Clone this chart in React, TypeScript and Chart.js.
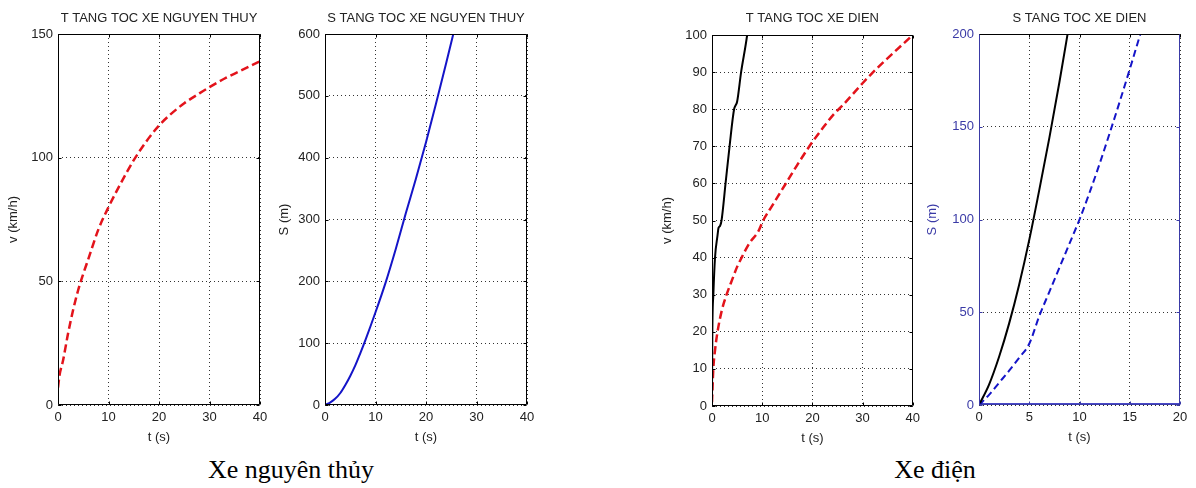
import React, { useEffect, useRef } from "react";
import { Chart, registerables } from "chart.js";

Chart.register(...registerables);

const FONT = "'Liberation Sans', Arial, Helvetica, sans-serif";
const TEXT = "#222222";
const GRID = "rgba(0,0,0,0.8)";
const AXIS_BLUE = "#3a3aa6";

// ---- Xe nguyên thủy: speed (km/h) vs time (s)
const origTime = [0, 0.3, 1, 2, 3, 4, 5, 6, 8, 10, 12, 15, 18, 20, 22, 25, 28, 30, 33, 36, 40];
const origSpeed = [7, 12, 18, 29, 38.5, 46.5, 53, 59, 71, 80, 88, 99, 108, 113, 117, 122, 126, 128.5, 132, 135, 139];

// ---- Xe nguyên thủy: distance (m) vs time (s)
const origDistTime = [0, 1, 2, 3, 4, 5, 6, 7, 8, 10, 12, 14, 16, 18, 20, 22, 24, 26];
const origDist = [0, 4, 10, 19, 32, 47, 64, 84, 105, 150, 198, 252, 310, 366, 425, 488, 553, 620];

// ---- Xe điện: speed (km/h) vs time (s)
const elecDashTime = [0, 0.26, 0.6, 1.1, 2, 2.9, 4, 5, 5.9, 7.5, 9.2, 10.2, 12, 14.5, 17, 19.4, 22, 24.5, 26, 28, 30, 32.1, 34, 36, 38, 40];
const elecDashSpeed = [1, 10, 15, 20, 26, 30, 34, 37.5, 40, 44, 47, 50, 54, 59.5, 65, 70, 74.8, 79, 81, 84, 87, 90, 92.5, 95, 97.5, 100];
const elecSolidTime = [0, 0.03, 0.07, 0.27, 0.6, 1.1, 1.3, 1.6, 1.9, 2.7, 3.5, 4.4, 4.7, 5.0, 5.8, 7.0, 7.5];
const elecSolidSpeed = [0, 10, 20, 30, 40, 46, 48, 48.5, 50, 60, 70, 80, 81, 82, 90, 100, 106];

// ---- Xe điện: distance (m) vs time (s)
const elecDistSolidTime = [0, 1, 2, 3, 4, 5, 6, 7, 8, 9];
const elecDistSolid = [0, 11, 26, 44, 65, 89, 116, 144, 174, 206];
const elecDistDashTime = [0, 1, 2, 3, 4, 5, 6, 7, 8, 9, 10, 11, 12, 13, 14, 15, 16, 17];
const elecDistDash = [0, 5.5, 12, 18.5, 25.5, 33, 48, 61, 74, 87, 100, 114.5, 130, 146.5, 163.5, 181, 199, 217];
const baseTime = [0, 20];
const baseDist = [0, 0];

// ---- text
const titles = ["T TANG TOC XE NGUYEN THUY", "S TANG TOC XE NGUYEN THUY", "T TANG TOC XE DIEN", "S TANG TOC XE DIEN"];
const xLabel = "t (s)";
const speedLabel = "v (km/h)";
const distLabel = "S (m)";
const captions = ["Xe nguyên thủy", "Xe điện"];

function pts(xs: number[], ys: number[]) {
  return xs.map((x, i) => ({ x, y: ys[i] }));
}

const boxPlugin = {
  id: "matlabBox",
  afterDatasetsDraw(chart: any, _args: any, opts: any) {
    const { ctx, chartArea: a, scales } = chart;
    const L = Math.round(a.left) + 0.5;
    const R = Math.round(a.right) - 0.5;
    const T = Math.round(a.top) + 0.5;
    const B = Math.round(a.bottom) - 0.5;
    ctx.save();
    ctx.lineWidth = 1;
    ctx.setLineDash([]);
    const c = opts.colors || {};
    const tl = 3;
    for (const t of scales.x.ticks) {
      const px = Math.round(scales.x.getPixelForValue(t.value)) + 0.5;
      ctx.strokeStyle = c.bottom || "#000";
      ctx.beginPath(); ctx.moveTo(px, B); ctx.lineTo(px, B - tl); ctx.stroke();
      ctx.strokeStyle = c.top || "#000";
      ctx.beginPath(); ctx.moveTo(px, T); ctx.lineTo(px, T + tl); ctx.stroke();
    }
    for (const t of scales.y.ticks) {
      const py = Math.round(scales.y.getPixelForValue(t.value)) + 0.5;
      ctx.strokeStyle = c.left || "#000";
      ctx.beginPath(); ctx.moveTo(L, py); ctx.lineTo(L + tl, py); ctx.stroke();
      ctx.strokeStyle = c.right || "#000";
      ctx.beginPath(); ctx.moveTo(R, py); ctx.lineTo(R - tl, py); ctx.stroke();
    }
    const side = (col: string, x1: number, y1: number, x2: number, y2: number) => {
      ctx.strokeStyle = col;
      ctx.beginPath(); ctx.moveTo(x1, y1); ctx.lineTo(x2, y2); ctx.stroke();
    };
    side(c.top || "#000", L, T, R, T);
    side(c.bottom || "#000", L, B, R, B);
    side(c.left || "#000", L, T, L, B);
    side(c.right || "#000", R, T, R, B);
    ctx.fillStyle = TEXT;
    ctx.font = `13px ${FONT}`;
    ctx.textAlign = "center";
    ctx.textBaseline = "middle";
    ctx.fillText(opts.title, (a.left + a.right) / 2, 18);
    ctx.restore();
  },
};

type Spec = {
  left: number;
  width: number;
  pad: { left: number; right: number; top: number; bottom: number };
  yWidth: number;
  yTitlePad: number;
  title: string;
  xMax: number;
  xStep: number;
  yMax: number;
  yStep: number;
  yLabel: string;
  yColor: string;
  colors?: any;
  datasets: any[];
};

function buildConfig(s: Spec): any {
  const font = { family: FONT, size: 13 };
  return {
    type: "line",
    data: { datasets: s.datasets },
    options: {
      responsive: false,
      animation: false,
      events: [],
      layout: { padding: s.pad },
      elements: { point: { radius: 0 } },
      plugins: {
        legend: { display: false },
        tooltip: { enabled: false },
        title: { display: false },
        matlabBox: { title: s.title, colors: s.colors },
      },
      scales: {
        x: {
          type: "linear",
          min: 0,
          max: s.xMax,
          ticks: { stepSize: s.xStep, color: TEXT, font, padding: 5, maxRotation: 0 },
          grid: { color: GRID, drawTicks: false, lineWidth: 1 },
          border: { display: false, dash: [1, 3] },
          title: { display: true, text: xLabel, color: TEXT, font, padding: { top: 0, bottom: 0 } },
          afterFit: (sc: any) => { sc.height = 40; },
        },
        y: {
          type: "linear",
          min: 0,
          max: s.yMax,
          ticks: { stepSize: s.yStep, color: s.yColor, font, padding: 5 },
          grid: { color: GRID, drawTicks: false, lineWidth: 1 },
          border: { display: false, dash: [1, 3] },
          title: { display: true, text: s.yLabel, color: s.yColor, font, padding: { top: s.yTitlePad, bottom: 0 } },
          afterFit: (sc: any) => { sc.width = s.yWidth; },
        },
      },
    },
    plugins: [boxPlugin],
  };
}

const RED = "#e3131b";
const BLUE = "#1414c8";

const specs: Spec[] = [
  {
    left: 0, width: 275,
    pad: { left: 4, right: 15, top: 34, bottom: 5 },
    yWidth: 54, yTitlePad: 2, title: titles[0],
    xMax: 40, xStep: 10, yMax: 150, yStep: 50, yLabel: speedLabel, yColor: TEXT,
    datasets: [
      { data: pts(origTime, origSpeed), borderColor: RED, borderWidth: 2.5, borderDash: [8, 4], cubicInterpolationMode: "monotone", fill: false },
    ],
  },
  {
    left: 275, width: 265,
    pad: { left: 2, right: 13, top: 34, bottom: 5 },
    yWidth: 48, yTitlePad: 0, title: titles[1],
    xMax: 40, xStep: 10, yMax: 600, yStep: 100, yLabel: distLabel, yColor: TEXT,
    datasets: [
      { data: pts(origDistTime, origDist), borderColor: BLUE, borderWidth: 2, cubicInterpolationMode: "monotone", fill: false },
    ],
  },
  {
    left: 640, width: 285,
    pad: { left: 18, right: 12, top: 35, bottom: 4 },
    yWidth: 54, yTitlePad: 2, title: titles[2],
    xMax: 40, xStep: 10, yMax: 100, yStep: 10, yLabel: speedLabel, yColor: TEXT,
    datasets: [
      { data: pts(elecSolidTime, elecSolidSpeed), borderColor: "#000", borderWidth: 2, cubicInterpolationMode: "monotone", fill: false },
      { data: pts(elecDashTime, elecDashSpeed), borderColor: RED, borderWidth: 2.5, borderDash: [8, 4], cubicInterpolationMode: "monotone", fill: false },
    ],
  },
  {
    left: 925, width: 271,
    pad: { left: 0, right: 16, top: 34, bottom: 5 },
    yWidth: 54, yTitlePad: 0, title: titles[3],
    xMax: 20, xStep: 5, yMax: 200, yStep: 50, yLabel: distLabel, yColor: AXIS_BLUE,
    colors: { left: AXIS_BLUE, right: AXIS_BLUE, bottom: AXIS_BLUE, top: "#000" },
    datasets: [
      { data: pts(baseTime, baseDist), borderColor: "#0a0ab4", borderWidth: 3.5, fill: false },
      { data: pts(elecDistSolidTime, elecDistSolid), borderColor: "#000", borderWidth: 2, cubicInterpolationMode: "monotone", fill: false },
      { data: pts(elecDistDashTime, elecDistDash), borderColor: BLUE, borderWidth: 2, borderDash: [7, 4], cubicInterpolationMode: "monotone", fill: false },
    ],
  },
];

function Panel({ spec }: { spec: Spec }) {
  const ref = useRef<HTMLCanvasElement | null>(null);
  useEffect(() => {
    if (!ref.current) return;
    const chart = new Chart(ref.current, buildConfig(spec));
    return () => chart.destroy();
  }, [spec]);
  return (
    <canvas
      ref={ref}
      width={spec.width}
      height={450}
      style={{ position: "absolute", left: spec.left, top: 0, width: spec.width, height: 450 }}
    />
  );
}

export default function App() {
  const capStyle: React.CSSProperties = {
    position: "absolute",
    top: 457,
    width: 400,
    textAlign: "center",
    fontFamily: "'Liberation Serif', 'Times New Roman', serif",
    fontSize: 26,
    lineHeight: "26px",
    color: "#000",
    whiteSpace: "nowrap",
  };
  return (
    <div style={{ position: "absolute", left: 0, top: 0, width: 1196, height: 488, background: "#fff", overflow: "hidden" }}>
      {specs.map((s, i) => (
        <Panel key={i} spec={s} />
      ))}
      <div style={{ ...capStyle, left: 291 - 200 }}>{captions[0]}</div>
      <div style={{ ...capStyle, left: 935 - 200 }}>{captions[1]}</div>
    </div>
  );
}
